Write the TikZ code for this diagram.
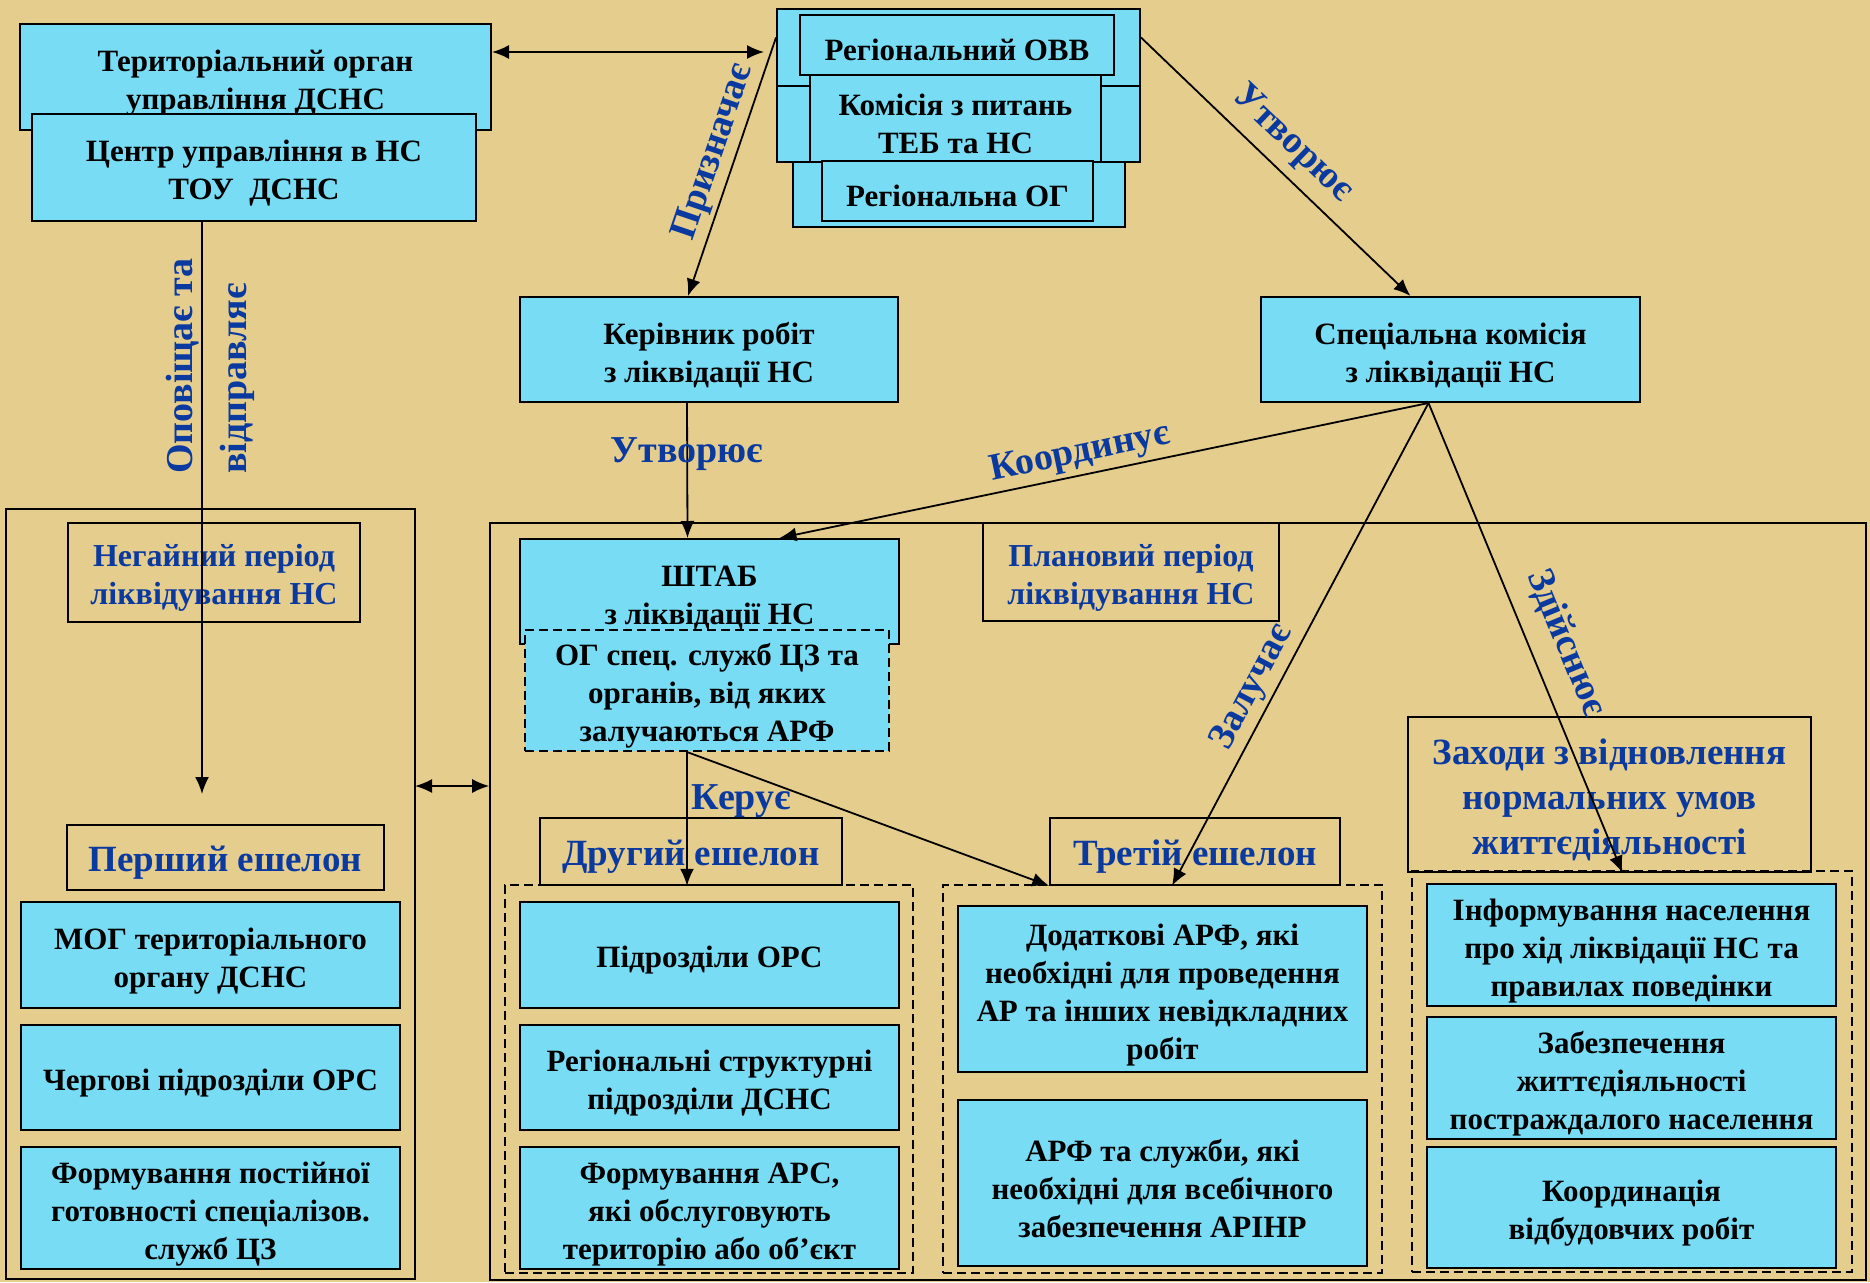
\documentclass[tikz,border=0pt]{standalone}
\usepackage{fontspec}
\setmainfont{Liberation Serif}
\usetikzlibrary{calc, positioning, arrows.meta}
\definecolor{paper}{RGB}{229,205,141}
\definecolor{cyanbox}{RGB}{120,220,245}
\definecolor{verbblue}{RGB}{10,58,160}
\newcommand{\lowr}{\rule{0pt}{33pt}}
\tikzset{
    unit/.style={draw, rectangle, fill=cyanbox, line width=2pt, inner sep=2pt, align=center, font=\fontsize{31}{38}\selectfont\bfseries, execute at begin node={\rule{0pt}{32pt}}},
    ogunit/.style={unit, dash pattern=on 9pt off 5pt},
    band/.style={draw, rectangle, fill=cyanbox, line width=2pt},
    period/.style={draw, rectangle, line width=1.6pt, inner sep=2pt, align=center, text=verbblue, font=\fontsize{32}{38}\selectfont\bfseries, execute at begin node={\rule{0pt}{33pt}}},
    echelon/.style={period, font=\fontsize{37}{45}\selectfont\bfseries, execute at begin node={\rule{0pt}{36pt}}},
    region/.style={draw, rectangle, line width=1.6pt},
    group/.style={draw, rectangle, line width=1.6pt, dash pattern=on 9pt off 5pt},
    verb/.style={text=verbblue, inner sep=4pt, font=\fontsize{38}{46}\selectfont\bfseries},
    link/.style={line width=1.8pt, -{Latex[length=17pt,width=14pt]}},
    twoway/.style={line width=1.8pt, {Latex[length=17pt,width=14pt]}-{Latex[length=17pt,width=14pt]}}
}

\begin{document}
\begin{tikzpicture}[x=1pt, y=-1pt]
    \fill[paper] (0,0) rectangle (1870,1282);
    \useasboundingbox (0,0) rectangle (1870,1282);
    % ---- periods
    \node[region, minimum width=409pt, minimum height=770pt] (imm) at (210.5,894) {};
    \node[region, minimum width=1376pt, minimum height=757pt] (plan) at (1178,901.5) {};
    \node[group, minimum width=408pt, minimum height=388pt] (g2) at (709,1079) {};
    \node[group, minimum width=439pt, minimum height=388pt] (g3) at (1162.5,1079) {};
    \node[group, minimum width=440pt, minimum height=401pt] (g4) at (1632,1071.5) {};
    % ---- top
    \node[unit, minimum width=471pt, minimum height=106pt] (ter) at (255.5,77) {\lowr Територіальний орган\\управління ДСНС};
    \node[unit, minimum width=444pt, minimum height=107pt] (centr) at (254,167.5) {\lowr Центр управління в НС\\ТОУ\ \ ДСНС};
    \node[band, minimum width=363pt, minimum height=77pt] (ovvtop) at (958.5,47.5) {};
    \node[band, minimum width=363pt, minimum height=76pt] (ovvmid) at (958.5,124) {};
    \node[band, minimum width=332pt, minimum height=65pt] (ovvlow) at (959,194.5) {};
    \node[unit, minimum width=314pt, minimum height=60pt] (ovv) at (957,45) {Регіональний ОВВ};
    \node[unit, minimum width=291pt, minimum height=87pt] (kom) at (955.5,118.5) {\lowr Комісія з питань\\ТЕБ та НС};
    \node[unit, minimum width=271pt, minimum height=60pt] (rog) at (957.5,191) {Регіональна ОГ};
    \node[unit, minimum width=378pt, minimum height=105pt] (ker) at (709,349.5) {\lowr Керівник робіт\\з ліквідації НС};
    \node[unit, minimum width=379pt, minimum height=105pt] (spec) at (1450.5,349.5) {\lowr Спеціальна комісія\\з ліквідації НС};
    \node[unit, minimum width=379pt, minimum height=105pt] (shtab) at (709.5,591.5) {\lowr ШТАБ\\з ліквідації НС};
    \node[ogunit, minimum width=364pt, minimum height=121pt] (og) at (707,690.5) {\lowr ОГ спец. служб ЦЗ та\\органів, від яких\\залучаються АРФ};
    % ---- headings
    \node[period, minimum width=292pt, minimum height=99pt] (neh) at (214,572.5) {\lowr Негайний період\\ліквідування НС};
    \node[period, minimum width=296pt, minimum height=98pt] (planp) at (1131,572) {\lowr Плановий період\\ліквідування НС};
    \node[echelon, minimum width=317pt, minimum height=65pt] (persh) at (225.5,857.5) {Перший ешелон};
    \node[echelon, minimum width=302pt, minimum height=67pt] (druh) at (691,851.5) {Другий ешелон};
    \node[echelon, minimum width=290pt, minimum height=67pt] (tret) at (1195,851.5) {Третій ешелон};
    \node[echelon, minimum width=403pt, minimum height=155pt] (zah) at (1609.5,794.5) {\rule{0pt}{36pt}Заходи з відновлення\\нормальних умов\\життєдіяльності};
    % ---- forces
    \node[unit, minimum width=379pt, minimum height=106pt] (mog) at (210.5,955) {\lowr МОГ територіального\\органу ДСНС};
    \node[unit, minimum width=379pt, minimum height=105pt, below=15pt of mog] (cherg) {Чергові підрозділи ОРС};
    \node[unit, minimum width=379pt, minimum height=122pt, below=15pt of cherg] (postij) {\lowr Формування постійної\\готовності спеціалізов.\\служб ЦЗ};
    \node[unit, minimum width=379pt, minimum height=106pt] (orc) at (709.5,955) {Підрозділи ОРС};
    \node[unit, minimum width=379pt, minimum height=105pt, below=15pt of orc] (regstr) {\lowr Регіональні структурні\\підрозділи ДСНС};
    \node[unit, minimum width=379pt, minimum height=122pt, below=15pt of regstr] (ars) {\lowr Формування АРС,\\які обслуговують\\територію або об’єкт};
    \node[unit, minimum width=409pt, minimum height=166pt] (dod) at (1162.5,989) {\lowr Додаткові АРФ, які\\необхідні для проведення\\АР та інших невідкладних\\робіт};
    \node[unit, minimum width=409pt, minimum height=166pt, below=26pt of dod] (arf) {\lowr АРФ та служби, які\\необхідні для всебічного\\забезпечення АРІНР};
    \node[unit, minimum width=409pt, minimum height=122pt] (inf) at (1631.5,945) {\lowr Інформування населення\\про хід ліквідації НС та\\правилах поведінки};
    \node[unit, minimum width=409pt, minimum height=122pt, below=9pt of inf] (zab) {\lowr Забезпечення\\життєдіяльності\\постраждалого населення};
    \node[unit, minimum width=409pt, minimum height=121pt, below=6pt of zab] (koord) {\lowr Координація\\відбудовчих робіт};
    % ---- links
    \coordinate (terA) at ([yshift=25pt]ter.east);
    \draw[twoway, shorten >=12pt] (terA) -- (terA -| ovvtop.west);
    \draw[link] ([yshift=10pt]ovvtop.west) -- ([xshift=-21pt]ker.north)
        node[verb, sloped, above, pos=0.47] {Призначає};
    \draw[link] ([yshift=10pt]ovvtop.east) -- ([xshift=-40pt]spec.north)
        node[verb, sloped, above=6pt, pos=0.49] {Утворює};
    \draw[link] ([xshift=-22pt]ker.south) -- ([xshift=-22pt]shtab.north)
        node[verb, pos=0.38] {Утворює};
    \coordinate (specS) at ([xshift=-22pt]spec.south);
    \draw[link] (specS) -- ([xshift=70pt]shtab.north)
        node[verb, sloped, above, pos=0.53] {Координує};
    \draw[link] (specS) -- ([xshift=-23pt]tret.south)
        node[verb, sloped, above, pos=0.61] {Залучає};
    \draw[link] (specS) -- ([xshift=13pt]zah.south)
        node[verb, sloped, above=14pt, pos=0.54] {Здійснює};
    \coordinate (opov) at (202,794);
    \draw[link] (centr.south -| opov) -- (opov);
    \node[verb, rotate=90, anchor=west, align=left, font=\fontsize{38}{54}\selectfont\bfseries] (opovlab) at (210,478) {Оповіщає та\\відправляє};
    \coordinate (ogS) at ([xshift=-20pt]og.south);
    \draw[link] (ogS) -- (ogS |- druh.south)
        node[verb, pos=0.37, right] {Керує};
    \draw[link] (ogS) -- (tret.south west);
    \coordinate (lrA) at (415,786);
    \draw[twoway] (lrA) -- (lrA -| plan.west);
\end{tikzpicture}
\end{document}
